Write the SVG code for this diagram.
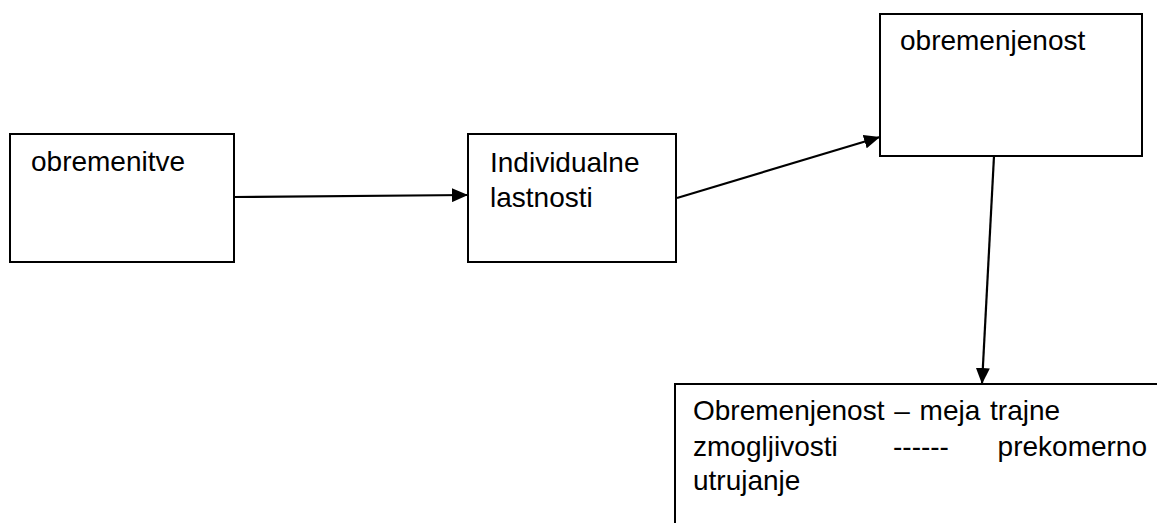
<svg xmlns="http://www.w3.org/2000/svg" width="1157" height="523" viewBox="0 0 1157 523">
<style>
.box{fill:#fff;stroke:#000;stroke-width:2}
.t{font-family:"Liberation Sans",Arial,sans-serif;font-size:28px;fill:#000}
.c{stroke:#000;stroke-width:2.2;fill:none}
</style>
<defs>
<marker id="ah" markerWidth="16" markerHeight="14" refX="16" refY="7" orient="auto" markerUnits="userSpaceOnUse">
<path d="M0,0 L16,7 L0,14 Z" fill="#000"/>
</marker>
</defs>
<rect width="1157" height="523" fill="#fff"/>
<g id="n1">
<rect class="box" x="10" y="134" width="224" height="128"/>
<text class="t" x="31" y="171">obremenitve</text>
</g>
<g id="n2">
<rect class="box" x="468" y="134" width="208" height="128"/>
<text class="t" x="490" y="172">Individualne</text>
<text class="t" x="490" y="207">lastnosti</text>
</g>
<g id="n3">
<rect class="box" x="880" y="14" width="262" height="142"/>
<text class="t" x="900" y="50">obremenjenost</text>
</g>
<g id="n4">
<rect class="box" x="675" y="384" width="490" height="150"/>
<text class="t" x="693" y="420" word-spacing="2">Obremenjenost – meja trajne</text>
<text class="t" x="693" y="456">zmogljivosti</text>
<text class="t" x="893" y="456">------</text>
<text class="t" x="1147" y="456" text-anchor="end">prekomerno</text>
<text class="t" x="693" y="490">utrujanje</text>
</g>
<g id="connectors">
<line class="c" x1="234" y1="197" x2="468" y2="195" marker-end="url(#ah)"/>
<line class="c" x1="677" y1="198" x2="880" y2="137" marker-end="url(#ah)"/>
<line class="c" x1="994" y1="156" x2="982" y2="384" marker-end="url(#ah)"/>
</g>
</svg>
